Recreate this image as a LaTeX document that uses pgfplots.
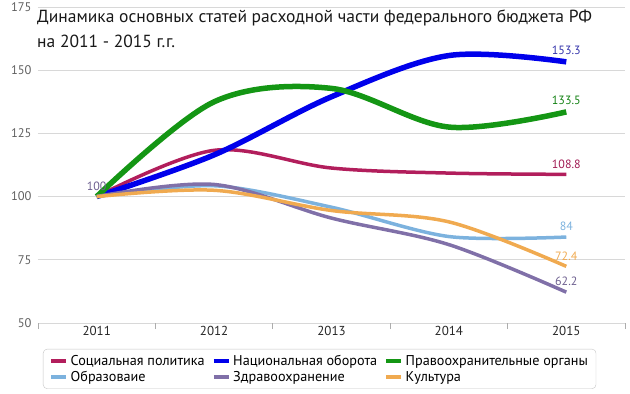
\documentclass[border=0pt]{standalone}
\usepackage{fontspec}
\setmainfont{PT Sans}
\usepackage{pgfplots}
\pgfplotsset{compat=1.18}
\definecolor{soc}{RGB}{178,30,92}
\definecolor{nat}{RGB}{0,0,235}
\definecolor{prav}{RGB}{20,150,20}
\definecolor{edu}{RGB}{124,178,222}
\definecolor{hea}{RGB}{128,112,168}
\definecolor{cul}{RGB}{240,170,80}
\definecolor{gridc}{RGB}{216,216,216}
\definecolor{tickc}{RGB}{96,96,96}
\begin{document}
\begin{tikzpicture}[x=1pt,y=1pt]
\path[use as bounding box] (0,0) rectangle (630,394);
\begin{axis}[at={(38pt,71pt)}, anchor=south west, scale only axis,
  width=587pt, height=316pt,
  xmin=2010.5, xmax=2015.5, ymin=50, ymax=175,
  xtick={2011,2012,2013,2014,2015},
  xticklabels={2011,2012,2013,2014,2015},
  ytick={50,75,100,125,150,175},
  minor xtick={2010.5,2011.5,2012.5,2013.5,2014.5,2015.5},
  xtick pos=bottom, ytick pos=left,
  tick align=outside,
  major tick length=0pt, minor tick length=6pt,
  minor tick style={gridc!80!black, line width=0.8pt},
  axis line style={draw=none},
  ymajorgrids, major grid style={gridc, line width=0.8pt},
  /pgf/number format/assume math mode=true,
  y tick label style={font=\fontsize{12.5}{13}\selectfont, text=tickc, xshift=-3pt},
  x tick label style={font=\fontsize{13}{13}\selectfont, text=black!85, yshift=0pt},
  nodes near coords, point meta=explicit symbolic,
  every node near coord/.append style={font=\fontsize{12}{12}\selectfont, anchor=south, yshift=1pt},
  legend style={at={(0.0085,-0.082)}, anchor=north west, draw=gray!45, rounded corners=4pt,
    font=\fontsize{14.2}{13}\selectfont, inner xsep=6pt, inner ysep=4pt,
    /tikz/every even column/.append style={column sep=5pt},
    /tikz/every odd column/.append style={column sep=0pt},
    /tikz/every row/.append style={row sep=-4pt}},
  legend columns=3, legend cell align=left,
  legend image code/.code={\draw[#1, line width=4.5pt] (0pt,0pt) -- (15pt,0pt);},
]
\addplot[soc, line width=3.5pt, smooth, tension=0.55, every node near coord/.append style={text=soc!90!black}]
  coordinates {(2011,100) [] (2012,118.3) [] (2013,111.3) [] (2014,109.3) [] (2015,108.8) [108.8]};
\addlegendentry{Социальная политика}
\addplot[nat, line width=5.5pt, smooth, tension=0.55, every node near coord/.append style={text={rgb,255:red,50;green,50;blue,170}}]
  coordinates {(2011,100) [] (2012,116.5) [] (2013,139.5) [] (2014,155.8) [] (2015,153.3) [153.3]};
\addlegendentry{Национальная оборота}
\addplot[prav, line width=5.5pt, smooth, tension=0.55, every node near coord/.append style={text=prav!85!black}]
  coordinates {(2011,100) [] (2012,137.5) [] (2013,142.8) [] (2014,127.5) [] (2015,133.5) [133.5]};
\addlegendentry{Правоохранительные органы}
\addplot[edu, line width=3.5pt, smooth, tension=0.5, every node near coord/.append style={text=edu}]
  coordinates {(2011,100) [] (2012,104.3) [] (2013,95.8) [] (2014,84.2) [] (2015,84) [84]};
\addlegendentry{Образоваие}
\addplot[hea, line width=3.5pt, smooth, tension=0.55, every node near coord/.append style={text=hea!85!black}]
  coordinates {(2011,100) [100] (2012,104.8) [] (2013,91.5) [] (2014,81) [] (2015,62.2) [62.2]};
\addlegendentry{Здравоохранение}
\addplot[cul, line width=3.5pt, smooth, tension=0.55, every node near coord/.append style={text=cul}]
  coordinates {(2011,100) [] (2012,102.5) [] (2013,94.5) [] (2014,90) [] (2015,72.4) [72.4]};
\addlegendentry{Культура}
\end{axis}
\node[anchor=north west, align=left, inner sep=0pt, font=\fontsize{17.5}{24.5}\selectfont, text=black!90] at (37,384)
  {Динамика основных статей расходной части федерального бюджета РФ\\на 2011 - 2015 г.г.};
\end{tikzpicture}
\end{document}
